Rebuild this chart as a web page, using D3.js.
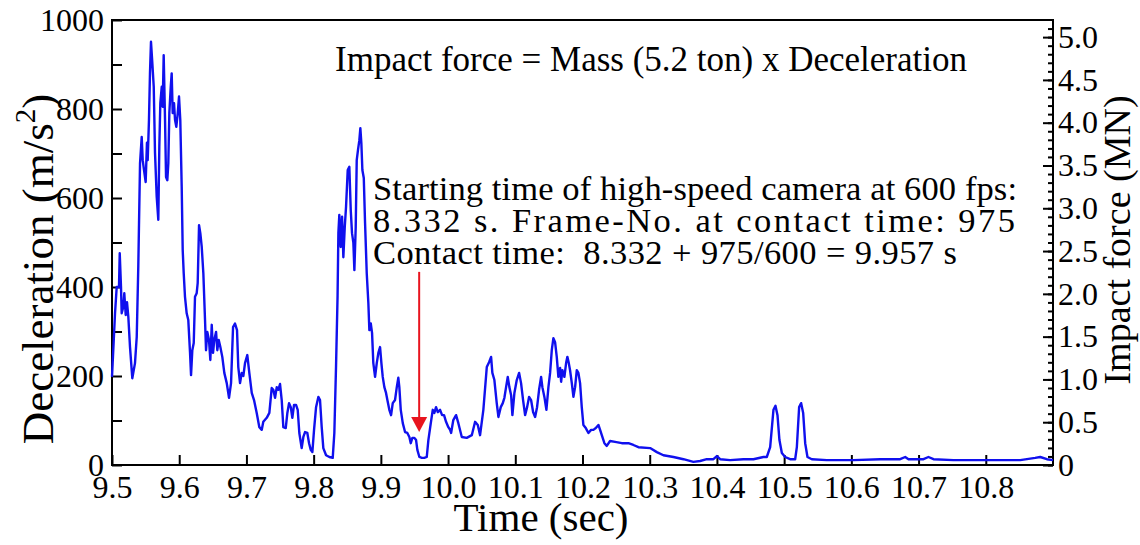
<!DOCTYPE html>
<html>
<head>
<meta charset="utf-8">
<script src="https://cdn.jsdelivr.net/npm/d3@7"></script>
<style>
  body { margin: 0; background: #fff; }
  svg text { font-family: "Liberation Serif", "Times New Roman", serif; fill: #000; }
</style>
</head>
<body>
<script>
// time (sec) and deceleration (m/s^2)
var times = [9.5,9.5045,9.507,9.5104,9.5115,9.5134,9.5144,9.5168,9.5183,9.5204,9.5223,9.5243,9.5268,9.5302,9.5342,9.5368,9.5391,9.5417,9.5442,9.5457,9.5476,9.5501,9.552,9.5531,9.555,9.5565,9.558,9.56,9.5621,9.564,9.5665,9.5689,9.5704,9.5719,9.574,9.5754,9.5769,9.5789,9.5804,9.5823,9.5838,9.5853,9.5874,9.5888,9.5903,9.5923,9.5938,9.5957,9.5978,9.5997,9.6016,9.6037,9.6052,9.6067,9.6086,9.6111,9.6135,9.6161,9.6176,9.6195,9.6216,9.6235,9.626,9.6275,9.6295,9.6314,9.6335,9.6359,9.6384,9.6399,9.6418,9.6443,9.6463,9.6484,9.6503,9.6522,9.6548,9.6567,9.6588,9.6612,9.6641,9.6671,9.6707,9.6741,9.6771,9.6801,9.683,9.686,9.6879,9.6905,9.693,9.6954,9.6979,9.7013,9.7043,9.7079,9.7113,9.7153,9.7192,9.7228,9.7251,9.7302,9.7341,9.7376,9.74,9.7426,9.7451,9.7475,9.75,9.7525,9.7549,9.7585,9.7609,9.7634,9.766,9.7683,9.7708,9.7738,9.7763,9.7787,9.7822,9.7847,9.7872,9.7906,9.7932,9.7957,9.7981,9.8006,9.8036,9.807,9.8095,9.812,9.8144,9.8185,9.8234,9.8284,9.8308,9.8333,9.8356,9.8368,9.8382,9.8403,9.8423,9.8442,9.8463,9.8482,9.8507,9.8531,9.8552,9.8571,9.8591,9.8606,9.8626,9.8641,9.866,9.868,9.8695,9.871,9.8725,9.8746,9.8765,9.879,9.8814,9.8829,9.885,9.8869,9.8888,9.8914,9.8939,9.8963,9.8988,9.9008,9.9028,9.9052,9.9077,9.9097,9.9126,9.9152,9.9177,9.9211,9.9237,9.926,9.9275,9.9296,9.9326,9.936,9.9394,9.9424,9.9445,9.9469,9.9499,9.9524,9.9543,9.9573,9.9609,9.9647,9.9683,9.9707,9.9743,9.9772,9.9796,9.9821,9.9847,9.9881,9.9911,9.994,9.997,10.0004,10.003,10.0045,10.0078,10.0104,10.0119,10.0153,10.0204,10.0278,10.0353,10.0402,10.0442,10.0476,10.0525,10.0576,10.061,10.064,10.0659,10.0689,10.0724,10.0749,10.0784,10.0814,10.0838,10.0863,10.0888,10.0912,10.0938,10.0957,10.0987,10.1022,10.1057,10.1086,10.1116,10.1146,10.1176,10.1205,10.1235,10.1265,10.1295,10.1324,10.1354,10.1384,10.1403,10.1433,10.1463,10.1493,10.1518,10.1543,10.1567,10.1592,10.1617,10.1641,10.1667,10.1682,10.1701,10.1731,10.1756,10.1775,10.1796,10.1815,10.1841,10.1865,10.189,10.1915,10.1939,10.1964,10.1989,10.2013,10.2049,10.2088,10.2128,10.2162,10.2198,10.2237,10.2262,10.2287,10.2326,10.2361,10.241,10.2485,10.2585,10.2683,10.2757,10.2832,10.3006,10.3106,10.3204,10.3353,10.3502,10.365,10.375,10.3849,10.3948,10.3999,10.4048,10.4196,10.4394,10.4543,10.4692,10.4742,10.4792,10.4841,10.4871,10.4901,10.493,10.4966,10.5015,10.5089,10.5164,10.5189,10.5223,10.5253,10.5283,10.5313,10.5347,10.5412,10.5635,10.603,10.6429,10.6726,10.6801,10.685,10.6975,10.7073,10.7147,10.7222,10.7519,10.8016,10.8512,10.8735,10.881,10.8909,10.9];
var decel = [198,341,400,400,476,400,341,355,386,337,366,333,265,195,229,288,445,678,737,685,663,636,724,685,775,880,951,903,850,701,603,551,715,813,850,805,921,775,647,640,678,791,850,880,791,813,775,760,791,828,775,625,483,431,378,341,326,252,202,258,274,378,386,409,539,521,490,431,326,258,299,281,236,315,252,281,299,258,281,265,243,207,184,151,184,310,318,303,220,184,207,200,229,247,207,162,146,117,85,79,97,106,117,173,169,151,175,169,182,146,85,83,117,139,130,106,135,135,124,72,38,63,74,72,49,34,29,79,130,153,146,85,38,22,18,16,72,221,380,521,562,490,558,467,535,580,663,670,573,521,499,438,535,685,708,730,757,723,663,645,544,431,364,303,318,297,229,198,229,252,265,229,198,175,162,146,124,112,139,146,175,196,175,124,94,74,72,63,49,61,61,56,34,18,16,16,18,56,94,124,117,130,119,124,112,112,97,85,79,72,101,108,112,94,63,61,67,97,90,67,124,220,231,243,207,191,139,108,130,139,151,175,198,175,157,112,162,191,207,184,146,112,130,153,146,119,108,130,169,198,175,153,124,175,207,258,285,276,243,198,218,187,213,198,229,243,229,213,184,153,175,213,207,184,130,90,83,72,79,79,83,90,79,67,49,43,54,52,49,49,45,40,38,29,22,18,13,7,9,13,13,20,13,11,13,13,18,18,40,124,133,112,56,27,18,13,13,40,130,139,117,49,18,13,11,11,13,13,18,13,13,13,18,13,11,11,11,16,18,13,11];

var timeTicks = [9.5,9.6,9.7,9.8,9.9,10.0,10.1,10.2,10.3,10.4,10.5,10.6,10.7,10.8];
var decelTicks = [0,100,200,300,400,500,600,700,800,900,1000];
var forceMajor = [0,0.5,1.0,1.5,2.0,2.5,3.0,3.5,4.0,4.5,5.0];
var forceMinor = d3.range(0, 52).map(function(i) { return i / 10; });

var massTon = 5.2;
var contactTime = 9.957;

var title = "Impact force = Mass (5.2 ton) x Deceleration";
var noteLines = [
  "Starting time of high-speed camera at 600 fps:",
  "8.332 s. Frame-No. at contact time: 975",
  "Contact time:  8.332 + 975/600 = 9.957 s"
];
var noteWidths = [644, 642, 584];

var W = 1140, H = 545;
var margin = {top: 20, right: 87, bottom: 80, left: 112};
var width = W - margin.left - margin.right;
var height = H - margin.top - margin.bottom;

var svg = d3.select("body").append("svg")
    .attr("width", W)
    .attr("height", H);

var g = svg.append("g")
    .attr("transform", "translate(" + margin.left + "," + margin.top + ")");

var x = d3.scaleLinear().domain([9.5, 10.9]).range([0, width]);
var y = d3.scaleLinear().domain([0, 1000]).range([height, 0]);
var yF = d3.scaleLinear().domain([0, 1000 * massTon / 1000]).range([height, 0]);

var tickFont = 32;

function styleAxis(s) {
  s.select(".domain").remove();
  s.attr("font-size", tickFont).attr("font-family", null);
  s.selectAll("text").style("font-size", tickFont + "px");
}

// bottom axis, ticks pointing inward
var xAxis = d3.axisBottom(x)
    .tickValues(timeTicks)
    .tickSize(-10)
    .tickPadding(10)
    .tickFormat(d3.format(".1f"));
g.append("g")
    .attr("transform", "translate(0," + height + ")")
    .call(xAxis)
    .call(styleAxis);

// left axis
var yAxis = d3.axisLeft(y)
    .tickValues(decelTicks)
    .tickSize(-10)
    .tickPadding(8)
    .tickFormat(function(d) { return d % 200 === 0 ? d : ""; });
g.append("g")
    .call(yAxis)
    .call(styleAxis);

// right axis: minor then major
g.append("g")
    .attr("transform", "translate(" + width + ",0)")
    .call(d3.axisRight(yF).tickValues(forceMinor).tickSize(-5).tickFormat(""))
    .call(styleAxis);
g.append("g")
    .attr("transform", "translate(" + width + ",0)")
    .call(d3.axisRight(yF).tickValues(forceMajor).tickSize(-10).tickPadding(5)
      .tickFormat(function(d) { return d === 0 ? "0" : d3.format(".1f")(d); }))
    .call(styleAxis);

g.selectAll(".tick line").attr("stroke", "#000").attr("stroke-width", 2);

// frame
g.append("rect")
    .attr("width", width)
    .attr("height", height)
    .attr("fill", "none")
    .attr("stroke", "#000")
    .attr("stroke-width", 2);

// the signal
var data = times.map(function(t, i) { return [t, decel[i]]; });
var line = d3.line()
    .x(function(d) { return x(d[0]); })
    .y(function(d) { return y(d[1]); });
g.append("path")
    .datum(data)
    .attr("fill", "none")
    .attr("stroke", "#1010ee")
    .attr("stroke-width", 2.4)
    .attr("stroke-linejoin", "round")
    .attr("d", line);

// red arrow at contact time
var ax = x(contactTime);
g.append("line")
    .attr("x1", ax).attr("x2", ax)
    .attr("y1", y(434)).attr("y2", y(100))
    .attr("stroke", "#e8141e")
    .attr("stroke-width", 2);
g.append("path")
    .attr("d", "M" + (ax - 8) + "," + y(108) + "L" + (ax + 8) + "," + y(108) + "L" + ax + "," + y(74) + "Z")
    .attr("fill", "#e8141e");

// annotations
svg.append("text")
    .attr("x", 335).attr("y", 71)
    .style("font-size", "35px")
    .text(title);

svg.selectAll(".note")
    .data(noteLines)
  .enter().append("text")
    .attr("class", "note")
    .attr("x", 373)
    .attr("y", function(d, i) { return 200 + i * 32; })
    .attr("textLength", function(d, i) { return noteWidths[i]; })
    .attr("lengthAdjust", "spacing")
    .style("font-size", "34.5px")
    .style("white-space", "pre")
    .text(function(d) { return d; });

// axis titles
svg.append("text")
    .attr("x", 541)
    .attr("y", 531)
    .attr("text-anchor", "middle")
    .style("font-size", "41px")
    .text("Time (sec)");

var yl = svg.append("text")
    .attr("transform", "translate(53,269) rotate(-90)")
    .attr("text-anchor", "middle")
    .style("font-size", "45px");
yl.append("tspan").text("Deceleration (m/s");
yl.append("tspan").attr("dy", -18).style("font-size", "29px").text("2");
yl.append("tspan").attr("dy", 18).text(")");

svg.append("text")
    .attr("transform", "translate(1130,240) rotate(-90)")
    .attr("text-anchor", "middle")
    .style("font-size", "38px")
    .text("Impact force (MN)");
</script>
</body>
</html>
